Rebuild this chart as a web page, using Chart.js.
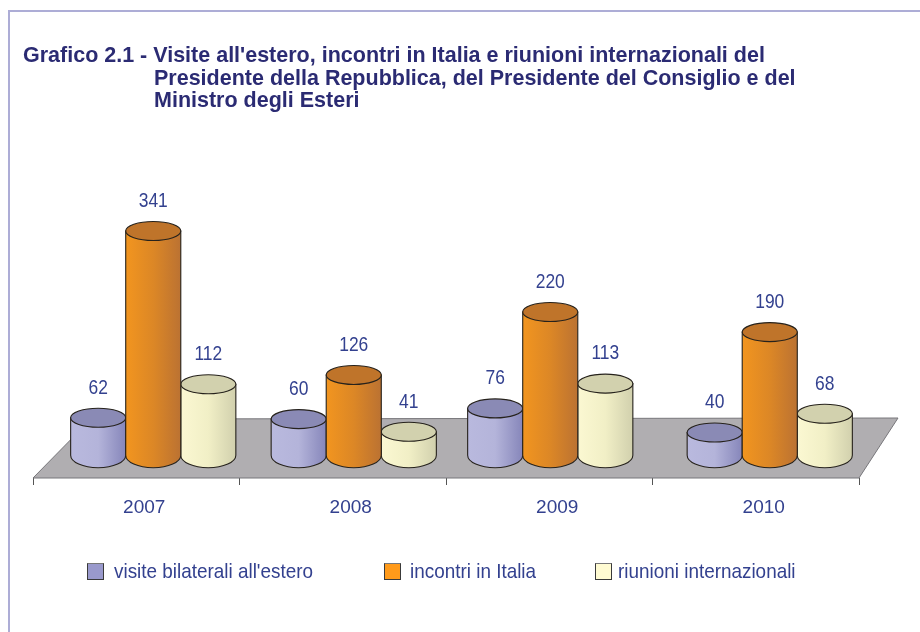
<!DOCTYPE html>
<html lang="it">
<head>
<meta charset="utf-8">
<title>Grafico 2.1</title>
<script src="https://cdn.jsdelivr.net/npm/chart.js@4/dist/chart.umd.min.js"></script>
<style>
  html, body { margin: 0; padding: 0; background: #fff; overflow: hidden; }
  body { width: 920px; height: 632px; position: relative; font-family: "Liberation Sans", Arial, sans-serif; }
  #frame { position: absolute; left: 8px; top: 10px; right: -4px; bottom: -4px; border: 2px solid #adadd6; }
  #chart { position: absolute; left: 0; top: 0; }
  .title { position: absolute; left: 23px; color: #2b2b73; font-weight: bold; font-size: 21.5px; line-height: 22px; white-space: nowrap; }
  .legend-box { position: absolute; top: 563px; width: 15px; height: 15px; border: 1px solid #3a3a3a; border-top-color: #777; }
  .legend-text { position: absolute; top: 559px; color: #33418f; font-size: 21px; line-height: 23px; white-space: nowrap; transform: scaleX(0.9); transform-origin: left center; }
</style>
</head>
<body>
<div id="frame"></div>
<canvas id="chart" width="920" height="632"></canvas>
<div class="title" style="top:44px">Grafico 2.1 - Visite all'estero, incontri in Italia e riunioni internazionali del</div>
<div class="title" style="top:67px;left:154px">Presidente della Repubblica, del Presidente del Consiglio e del</div>
<div class="title" style="top:89px;left:154px">Ministro degli Esteri</div>
<div id="legend"></div>
<script>
const years = ['2007', '2008', '2009', '2010'];
const seriesNames = ['visite bilaterali all\'estero', 'incontri in Italia', 'riunioni internazionali'];
const visite = [62, 60, 76, 40];
const incontri = [341, 126, 220, 190];
const riunioni = [112, 41, 113, 68];

// the groups are not evenly spaced on the floor in the original, so nudge them
const groupShift = [17, 11, 1, 14];
const sideColors = [['#b9b9de', '#b4b4da', '#8686ba'], ['#f2951f', '#dc8726', '#bb7232'], ['#fbf8d2', '#f1efc6', '#d1d0ad']];
const topColors = ['#8a8ab5', '#bf742a', '#d2d1ae'];
const legendColors = ['#9999cc', '#ff9a1a', '#fffbd2'];
const textColor = '#33418f';
const fontFamily = '"Liberation Sans", Arial, sans-serif';
const topRy = 9.5;
const bottomRy = 12.5;
const baseLift = 4;

// floor of the 3d chart, under the bars
const floorPlugin = {
    id: 'floor',
    beforeDatasetsDraw(chart) {
        const { ctx, chartArea: a } = chart;
        ctx.save();
        ctx.beginPath();
        ctx.moveTo(a.left, a.bottom);
        ctx.lineTo(a.left + 58, a.bottom - 59);
        ctx.lineTo(a.right + 39, a.bottom - 60);
        ctx.lineTo(a.right, a.bottom);
        ctx.closePath();
        ctx.fillStyle = '#b0aeb1';
        ctx.fill();
        ctx.strokeStyle = '#77767a';
        ctx.lineWidth = 1;
        ctx.stroke();
        ctx.restore();
    }
};

const drawCylinder = (ctx, x, top, base, halfWidth, dsIndex) => {
    const left = x - halfWidth;
    const right = x + halfWidth;
    const grad = ctx.createLinearGradient(left, 0, right, 0);
    grad.addColorStop(0, sideColors[dsIndex][0]);
    grad.addColorStop(0.5, sideColors[dsIndex][1]);
    grad.addColorStop(1, sideColors[dsIndex][2]);

    ctx.beginPath();
    ctx.moveTo(left, top);
    ctx.lineTo(left, base - baseLift);
    ctx.ellipse(x, base - baseLift, halfWidth, bottomRy, 0, Math.PI, 0, true);
    ctx.lineTo(right, top);
    ctx.closePath();
    ctx.fillStyle = grad;
    ctx.fill();
    ctx.strokeStyle = '#26221c';
    ctx.lineWidth = 1.1;
    ctx.stroke();

    ctx.beginPath();
    ctx.ellipse(x, top, halfWidth, topRy, 0, 0, Math.PI * 2);
    ctx.fillStyle = topColors[dsIndex];
    ctx.fill();
    ctx.stroke();
};

// bars are read from the bar elements and painted as cylinders
const cylinderPlugin = {
    id: 'cylinders',
    beforeDatasetDraw() {
        return false; // skip the flat rectangles
    },
    afterDatasetsDraw(chart) {
        const { ctx } = chart;
        ctx.save();
        [0, 2, 1].forEach(dsIndex => {
            chart.getDatasetMeta(dsIndex).data.forEach((bar, i) => {
                const p = bar.getProps(['x', 'y', 'base', 'width'], true);
                drawCylinder(ctx, p.x + groupShift[i], p.y, p.base, p.width / 2, dsIndex);
            });
        });
        ctx.font = '21px ' + fontFamily;
        ctx.fillStyle = textColor;
        ctx.textAlign = 'center';
        ctx.textBaseline = 'middle';
        chart.data.datasets.forEach((ds, dsIndex) => {
            chart.getDatasetMeta(dsIndex).data.forEach((bar, i) => {
                const p = bar.getProps(['x', 'y'], true);
                // the numbers are condensed in the original
                ctx.save();
                ctx.translate(p.x + groupShift[i], p.y - 30);
                ctx.scale(0.83, 1);
                ctx.fillText(ds.data[i], 0, 0);
                ctx.restore();
            });
        });
        ctx.restore();
    }
};

new Chart(document.getElementById('chart'), {
    type: 'bar',
    data: {
        labels: years,
        datasets: [
            { label: seriesNames[0], data: visite, backgroundColor: legendColors[0] },
            { label: seriesNames[1], data: incontri, backgroundColor: legendColors[1] },
            { label: seriesNames[2], data: riunioni, backgroundColor: legendColors[2] }
        ]
    },
    options: {
        responsive: false,
        animation: false,
        layout: { padding: { left: 33, right: 61, top: 225, bottom: 0 } },
        datasets: { bar: { categoryPercentage: 0.8, barPercentage: 1 } },
        plugins: { legend: { display: false }, tooltip: { enabled: false } },
        scales: {
            x: {
                afterFit: scale => { scale.height = 154; },
                border: { display: false },
                grid: { drawOnChartArea: false, color: '#555', tickLength: 7, offset: true },
                ticks: {
                    color: textColor,
                    font: { family: fontFamily, size: 19 },
                    padding: 11,
                    labelOffset: 8,
                    maxRotation: 0,
                    autoSkip: false
                }
            },
            y: { display: false, min: -28, max: 350 }
        }
    },
    plugins: [floorPlugin, cylinderPlugin]
});

// legend is laid out by hand, its gaps are uneven in the original
const legendX = [[87, 114], [384, 410], [595, 618]];
const legend = document.getElementById('legend');
seriesNames.forEach((name, i) => {
    const box = document.createElement('div');
    box.className = 'legend-box';
    box.style.left = legendX[i][0] + 'px';
    box.style.background = legendColors[i];
    const text = document.createElement('div');
    text.className = 'legend-text';
    text.style.left = legendX[i][1] + 'px';
    text.textContent = name;
    legend.append(box, text);
});
</script>
</body>
</html>
